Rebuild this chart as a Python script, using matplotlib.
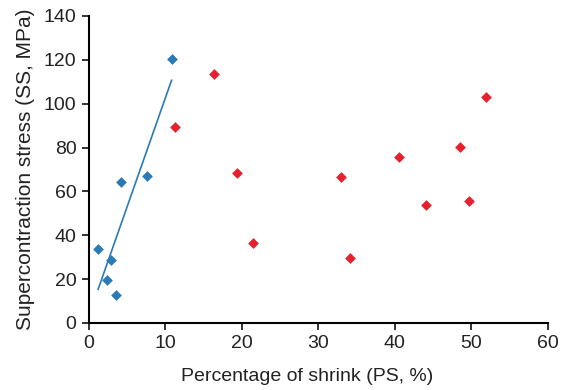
import matplotlib.pyplot as plt
import numpy as np

plt.rcParams['font.family'] = ['Liberation Sans', 'DejaVu Sans']

# blue group (with fitted line)
blue_x = [1.2, 2.3, 2.87, 3.5, 4.17, 7.65, 10.8]
blue_y = [33.6, 19.6, 28.9, 12.9, 64.4, 66.8, 120.4]
# red group
red_x = [11.25, 16.3, 19.4, 21.4, 32.9, 34.1, 40.5, 44.1, 48.5, 49.7, 51.9]
red_y = [89.5, 113.4, 68.6, 36.4, 66.4, 29.7, 75.7, 53.9, 80.2, 55.4, 103.0]

blue = '#2a7ab5'
red = '#e8202e'

fig = plt.figure(figsize=(5.63, 3.9), dpi=100)
ax = fig.add_axes([0.158, 0.172, 0.815, 0.787])

# least squares line through the blue points
m, c = np.polyfit(blue_x, blue_y, 1)
xl = np.array([min(blue_x), max(blue_x)])
ax.plot(xl, m * xl + c, color=blue, lw=1.2)

ax.scatter(blue_x, blue_y, marker='D', s=30, color=blue, zorder=3, linewidths=0)
ax.scatter(red_x, red_y, marker='D', s=30, color=red, zorder=3, linewidths=0)

ax.set_xlim(0, 60)
ax.set_ylim(0, 140)
ax.set_xticks(np.arange(0, 61, 10))
ax.set_yticks(np.arange(0, 141, 20))
ax.spines['top'].set_visible(False)
ax.spines['right'].set_visible(False)
ax.spines['left'].set_linewidth(1.5)
ax.spines['bottom'].set_linewidth(1.5)
ax.tick_params(direction='out', length=5, width=1.3, labelsize=14, colors='#222222', pad=4)
ax.set_xlabel('Percentage of shrink (PS, %)', fontsize=14, color='#222222', labelpad=11, x=0.475)
ax.set_ylabel('Supercontraction stress (SS, MPa)', fontsize=15, color='#222222', labelpad=6)

plt.savefig('out.png', dpi=100)
